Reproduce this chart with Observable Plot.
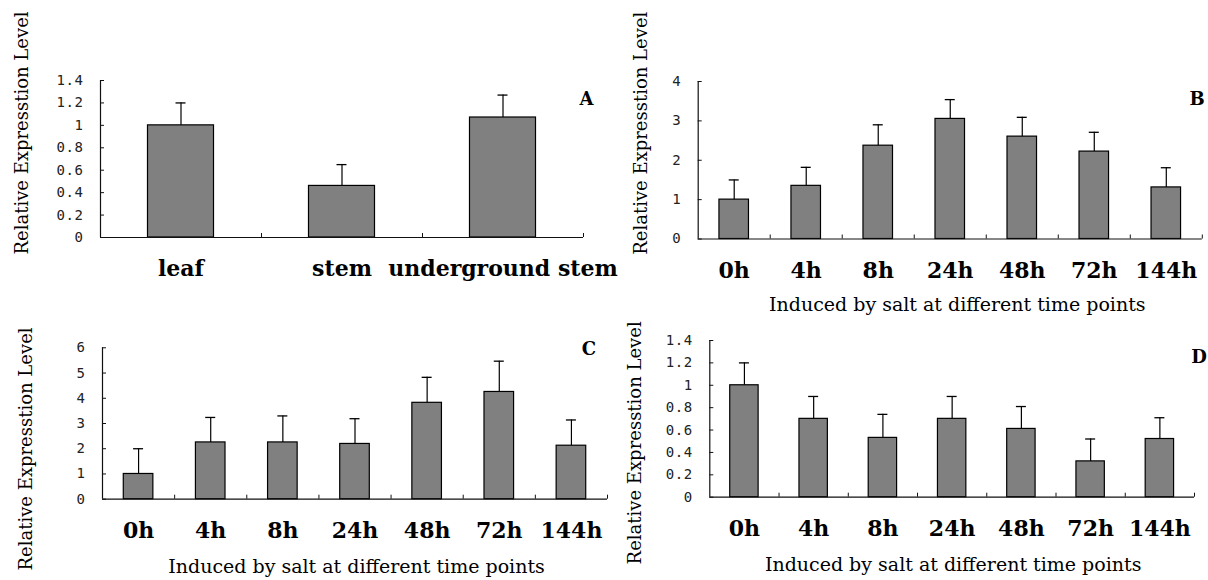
<!DOCTYPE html>
<html>
<head>
<meta charset="utf-8">
<script src="https://cdn.jsdelivr.net/npm/d3@7"></script>
<script src="https://cdn.jsdelivr.net/npm/@observablehq/plot@0.6"></script>
<style>
  html, body { margin: 0; padding: 0; background: #fff; }
  #root { position: relative; width: 1208px; height: 580px; overflow: hidden; background: #fff; }
  .pane { position: absolute; }
  .pane svg { max-width: none !important; }
  [aria-label="y-axis tick label"] text { letter-spacing: 0.6px; }
</style>
</head>
<body>
<div id="root"></div>
<script>
// ---- data ----
const catsA = ["leaf", "stem", "underground stem"];
const meanA = [1.0, 0.46, 1.07];
const errA  = [0.2, 0.19, 0.2];

const timeCats = ["0h", "4h", "8h", "24h", "48h", "72h", "144h"];
const meanB = [1.0, 1.35, 2.37, 3.05, 2.60, 2.22, 1.31];
const errB  = [0.5, 0.47, 0.53, 0.49, 0.49, 0.49, 0.50];
const meanC = [1.0, 2.25, 2.25, 2.19, 3.82, 4.25, 2.12];
const errC  = [1.0, 0.99, 1.05, 1.00, 1.01, 1.22, 1.02];
const meanD = [1.0, 0.70, 0.53, 0.70, 0.61, 0.32, 0.52];
const errD  = [0.2, 0.20, 0.21, 0.20, 0.20, 0.20, 0.19];

const yTicksA = [0, 0.2, 0.4, 0.6, 0.8, 1, 1.2, 1.4];
const yTicksB = [0, 1, 2, 3, 4];
const yTicksC = [0, 1, 2, 3, 4, 5, 6];
const yTicksD = [0, 0.2, 0.4, 0.6, 0.8, 1, 1.2, 1.4];

const yTitle = "Relative Expresstion Level";
const xTitle = "Induced by salt at different time points";
const letters = ["A", "B", "C", "D"];

// ---- drawing ----
const SERIF = "'DejaVu Serif', serif";
const MONO = "'DejaVu Sans Mono', monospace";

function panel(cfg) {
  const {cats, means, errs, yMax, yTicks, letter, showXTitle,
         left, top, width, height, mL, mR, mT, mB,
         yT, let: lt, xT} = cfg;
  const n = cats.length;
  const pad = 0.295;
  const data = cats.map((c, i) => ({i, cat: c, mean: means[i], err: errs[i]}));
  const marks = [
    Plot.rect(data, {x1: d => d.i + pad, x2: d => d.i + 1 - pad, y1: 0, y2: "mean",
                     fill: "#808080", stroke: "#000", strokeWidth: 1.2}),
    Plot.ruleX(data, {x: d => d.i + 0.5, y1: "mean", y2: d => d.mean + d.err, stroke: "#000", strokeWidth: 1.2}),
    Plot.ruleY(data, {y: d => d.mean + d.err, x1: d => d.i + 0.5, x2: d => d.i + 0.5,
                      insetLeft: -5, insetRight: -5, stroke: "#000", strokeWidth: 1.3}),
    Plot.ruleX([0], {stroke: "#111", strokeWidth: 1.2}),
    Plot.ruleY([0], {stroke: "#111", strokeWidth: 1.2}),
    Plot.axisY({ticks: yTicks, tickSize: -4, tickPadding: 21, tickFormat: d3.format("~g"),
                fontFamily: MONO, fontSize: 14, stroke: "#111", fill: "#222", label: null}),
    Plot.axisX({ticks: d3.range(1, n + 1), tickSize: -4, tickFormat: () => "", stroke: "#111", label: null}),
    Plot.axisX({ticks: data.map(d => d.i + 0.5), tickSize: 0, tickPadding: 23,
                tickFormat: d => cats[Math.floor(d)], fontFamily: SERIF, fontWeight: "bold",
                fontSize: 22, fill: "#000", label: null}),
    Plot.text([yTitle], {frameAnchor: "left", rotate: -90, dx: yT[0], dy: yT[1],
                         fontFamily: SERIF, fontSize: 18, fill: "#000", textAnchor: "middle"}),
    Plot.text([letter], {frameAnchor: "top-right", dx: lt[0], dy: lt[1], textAnchor: "middle",
                         fontFamily: SERIF, fontWeight: "bold", fontSize: 18, fill: "#000"})
  ];
  if (showXTitle) {
    marks.push(Plot.text([xTitle], {frameAnchor: "bottom", dx: xT[0], dy: xT[1], textAnchor: "middle",
                                    fontFamily: SERIF, fontSize: 19, fill: "#000"}));
  }
  const svg = Plot.plot({
    width, height,
    marginLeft: mL, marginRight: mR, marginTop: mT, marginBottom: mB,
    x: {domain: [0, n]},
    y: {domain: [0, yMax]},
    style: {background: "transparent", overflow: "visible", fontFamily: SERIF, color: "#000"},
    marks
  });
  const div = document.createElement("div");
  div.className = "pane";
  div.style.left = left + "px";
  div.style.top = top + "px";
  div.style.width = width + "px";
  div.style.height = height + "px";
  div.appendChild(svg);
  document.getElementById("root").appendChild(div);
}

panel({cats: catsA, means: meanA, errs: errA, yMax: 1.4, yTicks: yTicksA, letter: letters[0], showXTitle: false,
       left: 0, top: 0, width: 604, height: 300, mL: 100, mR: 21, mT: 80, mB: 63,
       yT: [-78, -26], let: [3, 11.5], xT: [0, 0]});
panel({cats: timeCats, means: meanB, errs: errB, yMax: 4, yTicks: yTicksB, letter: letters[1], showXTitle: true,
       left: 604, top: 0, width: 604, height: 320, mL: 93.7, mR: 6.2, mT: 81, mB: 81.5,
       yT: [-57, -27], let: [-5.3, 10.5], xT: [7, 71.5]});
panel({cats: timeCats, means: meanC, errs: errC, yMax: 6, yTicks: yTicksC, letter: letters[2], showXTitle: true,
       left: 0, top: 300, width: 612, height: 280, mL: 102, mR: 5, mT: 47.3, mB: 81.3,
       yT: [-76.3, 25.5], let: [-18.5, -5.3], xT: [1.5, 73.3]});
panel({cats: timeCats, means: meanD, errs: errD, yMax: 1.4, yTicks: yTicksD, letter: letters[3], showXTitle: true,
       left: 604, top: 320, width: 604, height: 260, mL: 105.3, mR: 14, mT: 20, mB: 83.3,
       yT: [-74.3, 24], let: [4.5, 10], xT: [1, 73.3]});
</script>
</body>
</html>
